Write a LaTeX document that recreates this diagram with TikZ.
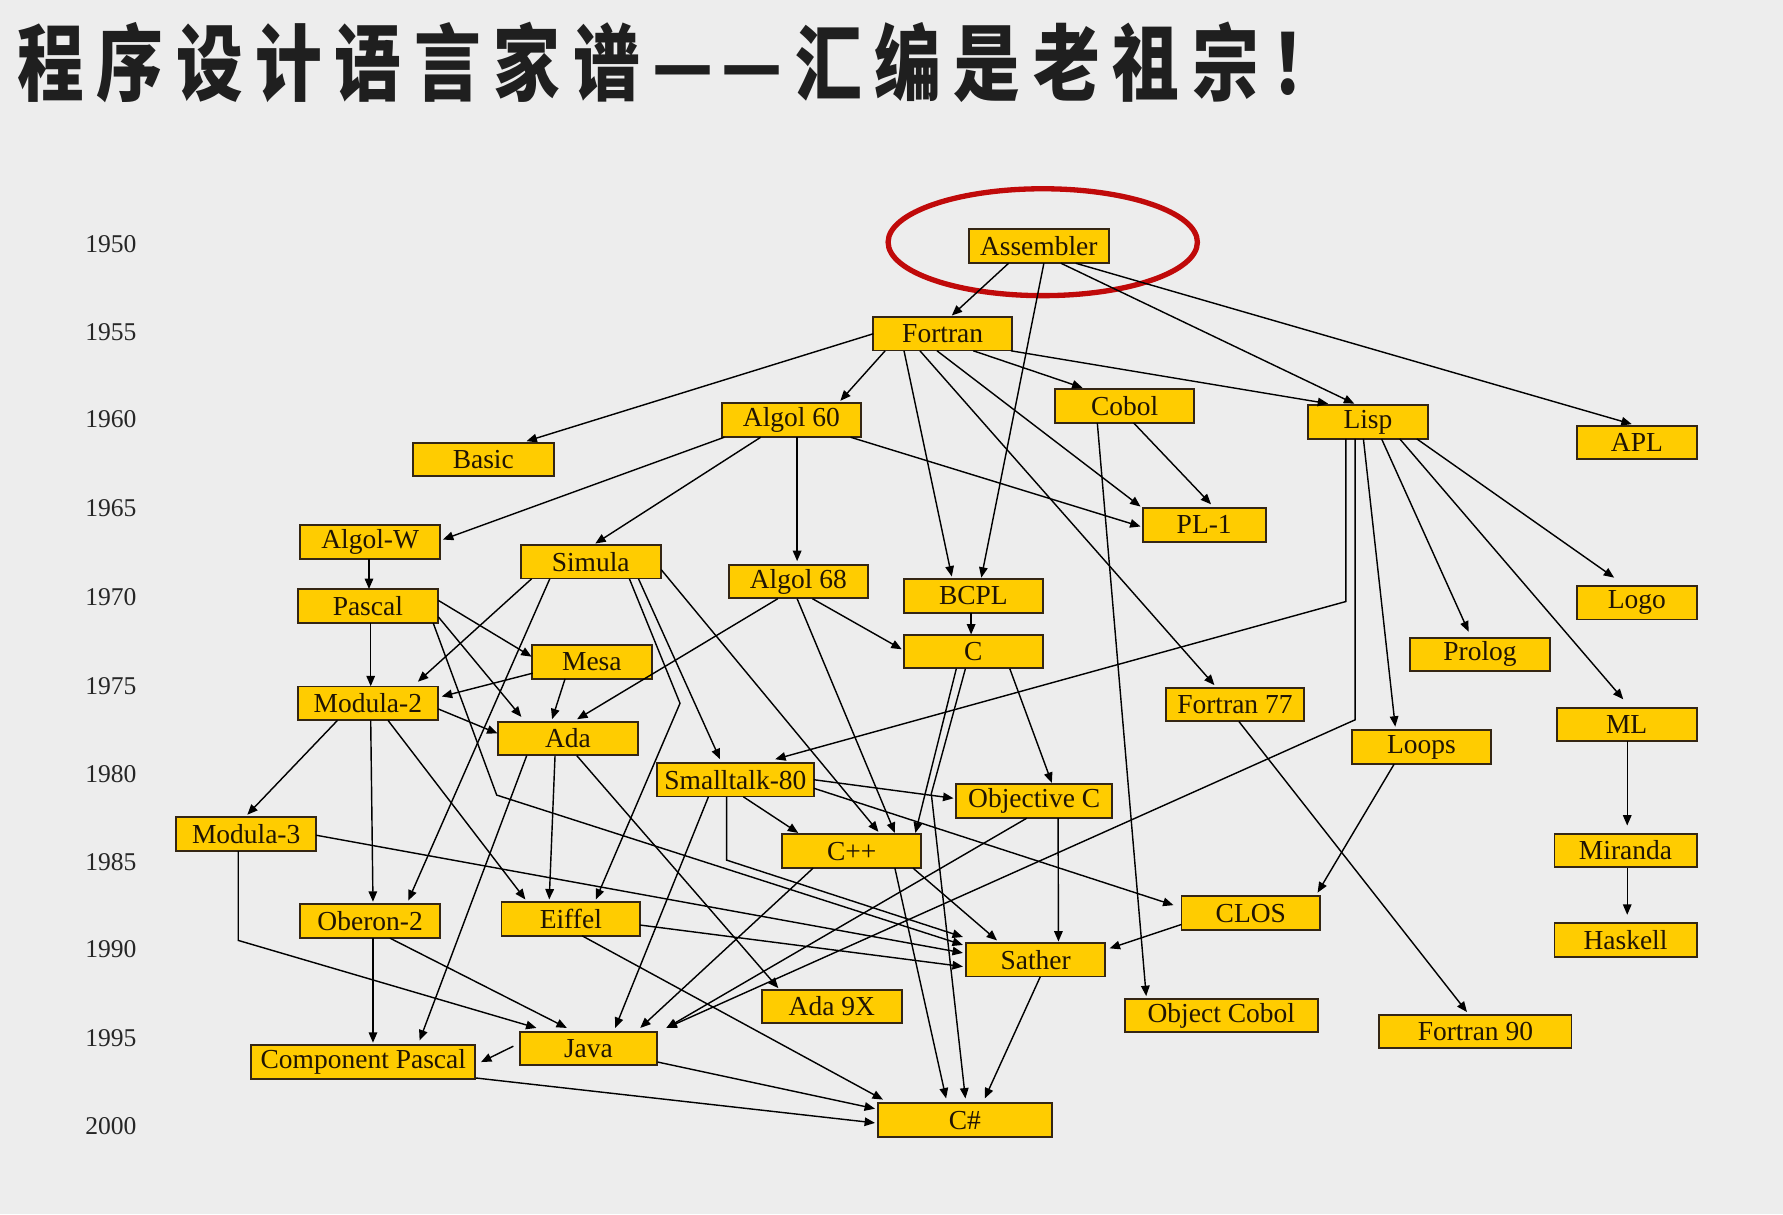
\documentclass[tikz,border=0pt]{standalone}
\usepackage{fontspec}
\usepackage{graphicx}
\setmainfont{Liberation Serif}
\newfontfamily\cjk{Noto Sans CJK SC}[LetterSpace=19]
\usetikzlibrary{arrows.meta,calc}
\definecolor{paper}{RGB}{237,237,237}
\definecolor{gold}{RGB}{255,204,0}
\definecolor{rim}{RGB}{52,38,20}
\definecolor{ink}{RGB}{32,20,4}
\definecolor{ringred}{RGB}{192,10,10}

\begin{document}
\begin{tikzpicture}[x=0.6pt,y=-0.6pt,
  lang/.style={draw=rim, line width=1pt, fill=gold, text=ink, inner sep=0pt,
    minimum height=17.7pt, font=\fontsize{14.5}{16}\selectfont},
  yearlabel/.style={text=black!85, inner sep=0pt, font=\fontsize{13.5}{15}\selectfont},
  link/.style={draw=black, line width=0.75pt, -{Triangle[length=5.5pt,width=4.5pt]}},
]
% canvas
\fill[paper] (0,0) rectangle (1568,1068);
\useasboundingbox (0,0) rectangle (1568,1068);

% title
\node[anchor=base west, inner sep=0pt, text=black!88] (title) at (15,83)
  {\scalebox{0.8}[1]{\cjk\bfseries\fontsize{44}{44}\selectfont 程序设计语言家谱—\kern0.12em—汇编是老祖宗！}};

% time axis
\node[yearlabel] (y1950) at (97.5,215) {1950};
\node[yearlabel] (y1955) at (97.5,292) {1955};
\node[yearlabel] (y1960) at (97.5,369) {1960};
\node[yearlabel] (y1965) at (97.5,447) {1965};
\node[yearlabel] (y1970) at (97.5,525) {1970};
\node[yearlabel] (y1975) at (97.5,603) {1975};
\node[yearlabel] (y1980) at (97.5,681) {1980};
\node[yearlabel] (y1985) at (97.5,758) {1985};
\node[yearlabel] (y1990) at (97.5,835) {1990};
\node[yearlabel] (y1995) at (97.5,913) {1995};
\node[yearlabel] (y2000) at (97.5,990) {2000};

% languages
\node[lang,minimum width=73.8pt] (Asm) at (913.5,216.5) {Assembler};
\node[lang,minimum width=73.2pt] (Fortran) at (829,293.5) {Fortran};
\node[lang,minimum width=73.2pt] (Algol60) at (696,369.5) {Algol 60};
\node[lang,minimum width=73.2pt] (Cobol) at (989,357) {Cobol};
\node[lang,minimum width=63.6pt] (Lisp) at (1203,371) {Lisp};
\node[lang,minimum width=63pt] (APL) at (1439.5,389) {APL};
\node[lang,minimum width=74.4pt] (Basic) at (425,404) {Basic};
\node[lang,minimum width=64.8pt] (PL1) at (1059,461.5) {PL-1};
\node[lang,minimum width=73.8pt] (AlgolW) at (325.5,476.5) {Algol-W};
\node[lang,minimum width=73.8pt] (Simula) at (519.5,494) {Simula};
\node[lang,minimum width=73.2pt] (Algol68) at (702,511.5) {Algol 68};
\node[lang,minimum width=73.2pt] (BCPL) at (856,524) {BCPL};
\node[lang,minimum width=63pt] (Logo) at (1439.5,530) {Logo};
\node[lang,minimum width=73.8pt] (Pascal) at (323.5,533) {Pascal};
\node[lang,minimum width=73.2pt] (C) at (856,573) {C};
\node[lang,minimum width=73.8pt] (Prolog) at (1301.5,575.5) {Prolog};
\node[lang,minimum width=63pt] (Mesa) at (520.5,582) {Mesa};
\node[lang,minimum width=73.8pt] (Modula2) at (323.5,618.5) {Modula-2};
\node[lang,minimum width=73.2pt] (Fortran77) at (1086,619.5) {Fortran 77};
\node[lang,minimum width=73.8pt] (ML) at (1430.5,637) {ML};
\node[lang,minimum width=73.8pt] (Ada) at (499.5,649.5) {Ada};
\node[lang,minimum width=73.2pt] (Loops) at (1250,657) {Loops};
\node[lang,minimum width=83.1pt] (Smalltalk) at (646.7,685.7) {Smalltalk-80};
\node[lang,minimum width=82.2pt] (ObjC) at (909.5,704.5) {Objective C};
\node[lang,minimum width=73.8pt] (Modula3) at (216.5,733.5) {Modula-3};
\node[lang,minimum width=73.2pt] (Cpp) at (749,748.5) {C++};
\node[lang,minimum width=75pt] (Miranda) at (1429.5,748) {Miranda};
\node[lang,minimum width=73.2pt] (CLOS) at (1100,803) {CLOS};
\node[lang,minimum width=73.8pt] (Oberon2) at (325.5,810) {Oberon-2};
\node[lang,minimum width=73.2pt] (Eiffel) at (502,808) {Eiffel};
\node[lang,minimum width=75pt] (Haskell) at (1429.5,826.5) {Haskell};
\node[lang,minimum width=73.2pt] (Sather) at (910.8,844) {Sather};
\node[lang,minimum width=73.8pt] (Ada9X) at (731.5,885) {Ada 9X};
\node[lang,minimum width=102pt] (ObjCobol) at (1074,893) {Object Cobol};
\node[lang,minimum width=101.4pt] (Fortran90) at (1297.5,907) {Fortran 90};
\node[lang,minimum width=72.6pt] (Java) at (517.5,922) {Java};
\node[lang,minimum width=118.2pt] (CompPascal) at (319.5,934) {Component Pascal};
\node[lang,minimum width=91.8pt] (Csharp) at (848.5,985) {C\#};

% highlight ring round the root
\draw[ringred, line width=2.8pt] (917,213) ellipse [x radius=136, y radius=47];

% descent links
% Assembler
\draw[link] ($(Asm.center)+(-26.5,15)$) -- ($(Fortran.center)+(8,-16)$);
\draw[link] ($(Asm.center)+(4.5,15)$) -- ($(BCPL.center)+(7,-16)$);
\draw[link] ($(Asm.center)+(19.5,15)$) -- ($(Lisp.center)+(-12,-16)$);
\draw[link] ($(Asm.center)+(32.5,15)$) -- ($(APL.center)+(-4.5,-16)$);
% Fortran
\draw[link] ($(Fortran.center)+(-61,0)$) -- ($(Basic.center)+(38,-16)$);
\draw[link] ($(Fortran.center)+(-50.6,15)$) -- ($(Algol60.center)+(43,-17)$);
\draw[link] ($(Fortran.center)+(-34,15)$) -- ($(BCPL.center)+(-19,-17)$);
\draw[link] ($(Fortran.center)+(-20,15)$) -- ($(Fortran77.center)+(-18,-17)$);
\draw[link] ($(Fortran.center)+(-5,15)$) -- ($(PL1.center)+(-56,-16)$);
\draw[link] ($(Fortran.center)+(27,15)$) -- ($(Cobol.center)+(-37,-16)$);
\draw[link] ($(Fortran.center)+(60,15)$) -- ($(Lisp.center)+(-35,-16)$);
% Algol 60
\draw[link] ($(Algol60.center)+(-59,15)$) -- ($(AlgolW.center)+(64,-2)$);
\draw[link] ($(Algol60.center)+(-27,15)$) -- ($(Simula.center)+(4,-16)$);
\draw[link] ($(Algol60.center)+(5,15)$) -- ($(Algol68.center)+(-1,-18)$);
\draw[link] ($(Algol60.center)+(52,15)$) -- ($(PL1.center)+(-56,1.5)$);
% Cobol
\draw[link] ($(Cobol.center)+(8,15)$) -- ($(PL1.center)+(6,-18)$);
\draw[link] ($(Cobol.center)+(-24,15)$) -- ($(ObjCobol.center)+(-66,-17)$);
% Lisp
\draw[link] ($(Lisp.center)+(-19.5,15)$) -- ($(Lisp.center)+(-19.5,158)$) -- ($(Smalltalk.center)+(35,-18)$);
\draw[link] ($(Lisp.center)+(-11.3,15)$) -- ($(Lisp.center)+(-11.3,262)$) -- ($(Java.center)+(68.5,-18)$);
\draw[link] ($(Lisp.center)+(-4,15)$) -- ($(Loops.center)+(-23,-18)$);
\draw[link] ($(Lisp.center)+(12,15)$) -- ($(Prolog.center)+(-10,-20)$);
\draw[link] ($(Lisp.center)+(28,15)$) -- ($(ML.center)+(-3,-22)$);
\draw[link] ($(Lisp.center)+(43,15)$) -- ($(Logo.center)+(-20,-22)$);
% Algol-W, Pascal, Modula-2, Mesa
\draw[link] ($(AlgolW.center)+(-1,15)$) -- ($(Pascal.center)+(1,-15)$);
\draw[link] ($(Pascal.center)+(2.5,15)$) -- ($(Modula2.center)+(2.5,-15)$);
\draw[link] ($(Pascal.center)+(62,-5)$) -- ($(Mesa.center)+(-53,-4.5)$);
\draw[link] ($(Pascal.center)+(62,9.5)$) -- ($(Ada.center)+(-41,-19)$);
\draw[link] ($(Pascal.center)+(57.5,15)$) -- ($(Pascal.center)+(113.3,166.2)$) -- ($(Sather.center)+(-64,-13)$);
\draw[link] ($(Modula2.center)+(-26.7,15)$) -- ($(Modula3.center)+(1,-17)$);
\draw[link] ($(Modula2.center)+(2.5,15)$) -- ($(Oberon2.center)+(2.5,-17)$);
\draw[link] ($(Modula2.center)+(17.7,15)$) -- ($(Eiffel.center)+(-40,-17)$);
\draw[link] ($(Modula2.center)+(62,5)$) -- ($(Ada.center)+(-62,-4.5)$);
\draw[link] ($(Mesa.center)+(-52,10)$) -- ($(Modula2.center)+(65,-6)$);
\draw[link] ($(Mesa.center)+(-23.6,15)$) -- ($(Ada.center)+(-14,-17)$);
% Simula
\draw[link] ($(Simula.center)+(-52,15)$) -- ($(Modula2.center)+(44,-19)$);
\draw[link] ($(Simula.center)+(-36,15)$) -- ($(Oberon2.center)+(33.5,-18)$);
\draw[link] ($(Simula.center)+(34,15)$) -- ($(Simula.center)+(78.5,124.5)$) -- ($(Eiffel.center)+(22,-17)$);
\draw[link] ($(Simula.center)+(42,15)$) -- ($(Smalltalk.center)+(-13.5,-18)$);
\draw[link] ($(Simula.center)+(62,7)$) -- ($(Cpp.center)+(23.5,-17)$);
% Algol 68, BCPL, C
\draw[link] ($(Algol68.center)+(-18,15)$) -- ($(Ada.center)+(8,-17)$);
\draw[link] ($(Algol68.center)+(12.5,15)$) -- ($(C.center)+(-63,-2)$);
\draw[link] ($(Algol68.center)+(-1,15)$) -- ($(Cpp.center)+(38,-16)$);
\draw[link] ($(BCPL.center)+(-2,15)$) -- ($(C.center)+(-2,-15)$);
\draw[link] ($(C.center)+(-15,15)$) -- ($(Cpp.center)+(56,-16)$);
\draw[link] ($(C.center)+(-7,15)$) -- ($(C.center)+(-37,125)$) -- ($(Csharp.center)+(0.5,-19)$);
\draw[link] ($(C.center)+(32,15)$) -- ($(ObjC.center)+(15.5,-16)$);
% Smalltalk-80
\draw[link] ($(Smalltalk.center)+(69,0)$) -- ($(ObjC.center)+(-71,-2.5)$);
\draw[link] ($(Smalltalk.center)+(69,7.5)$) -- ($(CLOS.center)+(-68,-7)$);
\draw[link] ($(Smalltalk.center)+(7,15)$) -- ($(Cpp.center)+(-47,-16)$);
\draw[link] ($(Smalltalk.center)+(-23.7,15)$) -- ($(Java.center)+(23.5,-18)$);
\draw[link] ($(Smalltalk.center)+(-7.7,15)$) -- ($(Smalltalk.center)+(-7.7,70.7)$) -- ($(Sather.center)+(-64,-20)$);
% Objective C, C++
\draw[link] ($(ObjC.center)+(21,15)$) -- ($(Sather.center)+(20,-16)$);
\draw[link] ($(ObjC.center)+(-6.5,15)$) -- ($(Java.center)+(68.5,-18)$);
\draw[link] ($(Cpp.center)+(54,15)$) -- ($(Sather.center)+(-34,-17)$);
\draw[link] ($(Cpp.center)+(-34,15)$) -- ($(Java.center)+(45.5,-18)$);
\draw[link] ($(Cpp.center)+(38,15)$) -- ($(Csharp.center)+(-16.5,-19)$);
% Modula-3, Oberon-2, Ada
\draw[link] ($(Modula3.center)+(-7,15)$) -- ($(Modula3.center)+(-7,93.5)$) -- ($(Java.center)+(-45.7,-18)$);
\draw[link] ($(Modula3.center)+(61.5,1)$) -- ($(Sather.center)+(-64,-6)$);
\draw[link] ($(Oberon2.center)+(2.5,15)$) -- ($(CompPascal.center)+(8.5,-17)$);
\draw[link] ($(Oberon2.center)+(17.4,15)$) -- ($(Java.center)+(-19,-18)$);
\draw[link] ($(Ada.center)+(-11.4,15)$) -- ($(Eiffel.center)+(-19,-17)$);
\draw[link] ($(Ada.center)+(7.7,15)$) -- ($(Ada9X.center)+(-47,-16)$);
\draw[link] ($(Ada.center)+(-36.3,15)$) -- ($(CompPascal.center)+(49.5,-19)$);
% Eiffel, Java, Component Pascal, Sather
\draw[link] ($(Eiffel.center)+(61,5.5)$) -- ($(Sather.center)+(-64,6)$);
\draw[link] ($(Eiffel.center)+(10,15)$) -- ($(Csharp.center)+(-72,-18)$);
\draw[link] ($(Java.center)+(-66,-2)$) -- ($(CompPascal.center)+(103.5,0)$);
\draw[link] ($(Java.center)+(61,12)$) -- ($(Csharp.center)+(-79,-10)$);
\draw[link] ($(CompPascal.center)+(99,14)$) -- ($(Csharp.center)+(-79,2.5)$);
\draw[link] ($(Sather.center)+(4,15)$) -- ($(Csharp.center)+(17.5,-19)$);
% CLOS, Loops, Fortran 77, ML family
\draw[link] ($(CLOS.center)+(-61,10)$) -- ($(Sather.center)+(65,-10)$);
\draw[link] ($(Loops.center)+(-24,15)$) -- ($(CLOS.center)+(58.7,-18)$);
\draw[link] ($(Fortran77.center)+(3.5,15)$) -- ($(Fortran90.center)+(-7.4,-17)$);
\draw[link] ($(ML.center)+(0.5,15)$) -- ($(Miranda.center)+(1.5,-22)$);
\draw[link] ($(Miranda.center)+(1.5,15)$) -- ($(Haskell.center)+(1.5,-22)$);
\end{tikzpicture}
\end{document}
